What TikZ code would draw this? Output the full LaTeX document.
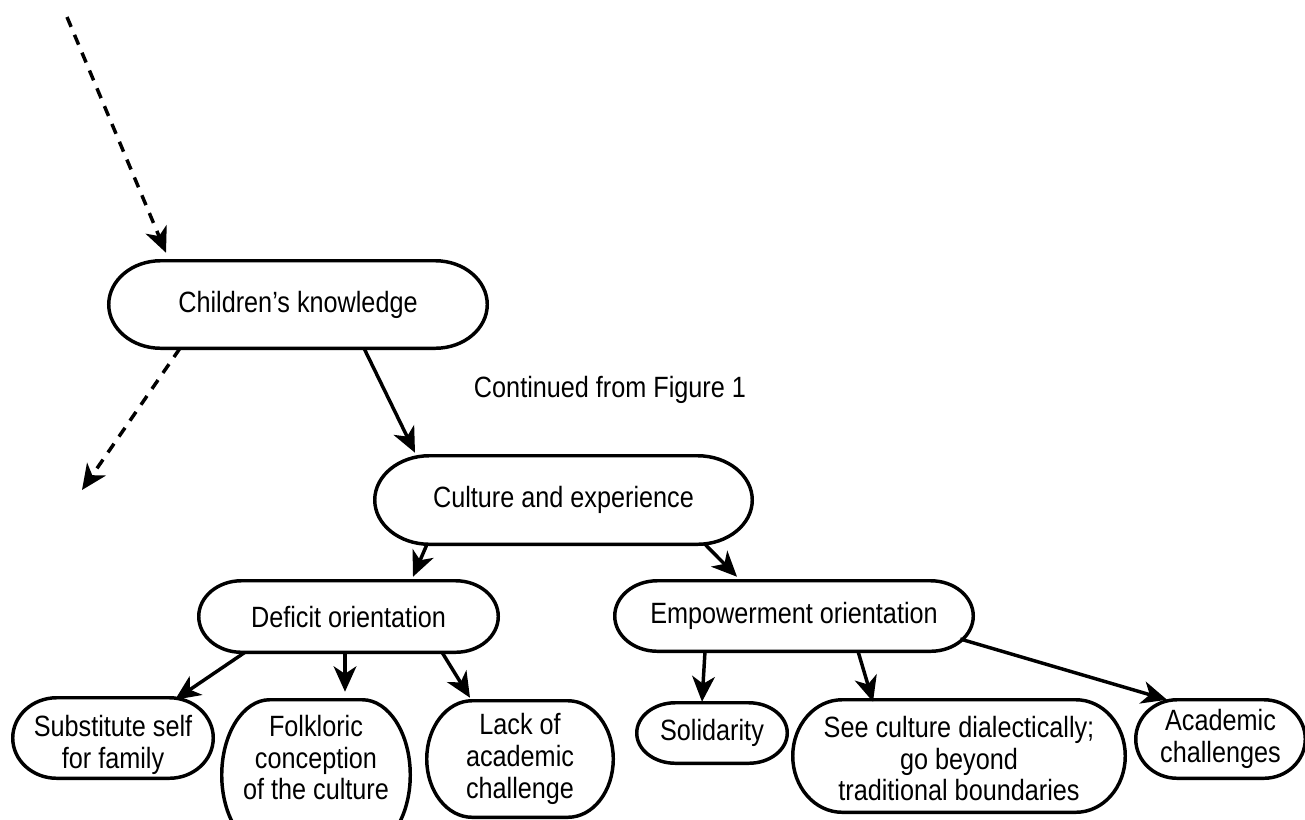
\documentclass[tikz,border=0pt]{standalone}
\usepackage{fontspec}
\setmainfont{Liberation Sans}[FakeStretch=0.86]
\usetikzlibrary{arrows.meta,calc}
\newcommand{\fs}{\fontsize{22pt}{23.8pt}\selectfont}
% oval outline with elliptical ends around a named node: #1 name, #2 horizontal end radius
\newcommand{\ovl}[2]{\draw[line width=2.6pt] let \p1=(#1.north west), \p2=(#1.south east), \p3=(#1.center), \n1={#2} in
  ({\x1+\n1},\y1) -- ({\x2-\n1},\y1)
  .. controls ({\x2-0.4477*\n1},\y1) and (\x2,{\y3+0.5523*(\y1-\y3)}) .. (\x2,\y3)
  .. controls (\x2,{\y3-0.5523*(\y1-\y3)}) and ({\x2-0.4477*\n1},\y2) .. ({\x2-\n1},\y2)
  -- ({\x1+\n1},\y2)
  .. controls ({\x1+0.4477*\n1},\y2) and (\x1,{\y3-0.5523*(\y1-\y3)}) .. (\x1,\y3)
  .. controls (\x1,{\y3+0.5523*(\y1-\y3)}) and ({\x1+0.4477*\n1},\y1) .. ({\x1+\n1},\y1) -- cycle;}
\begin{document}
\begin{tikzpicture}[x=0.75pt,y=-0.75pt,
  ob/.style={inner sep=0pt, align=center, font=\fs},
  txt/.style={inner sep=0pt, align=center, font=\fs},
  arr/.style={line width=2.6pt, -{Stealth[length=19pt,width=17pt,inset=5.5pt]}},
  darr/.style={arr, dash pattern=on 8pt off 6.5pt}]
\useasboundingbox (0,0) rectangle (1305,819);
\clip (0,0) rectangle (1305,819);
\fill[white] (0,0) rectangle (1305,819);

\node[ob, minimum width=283.5pt, minimum height=65.25pt] (know) at (298,304.5) {Children’s knowledge};
\node[ob, minimum width=282.75pt, minimum height=66pt] (cult) at (563.5,500) {Culture and experience};
\node[ob, minimum width=224.25pt, minimum height=53.25pt] (def) at (348.5,616.5) {Deficit orientation};
\node[ob, minimum width=268.5pt, minimum height=52.5pt] (emp) at (794,616) {Empowerment orientation};
\node[ob, minimum width=150pt, minimum height=60pt,
  label={[txt,yshift=-5pt]center:Substitute self\\for family}] (sub) at (113,738) {};
\node[ob, minimum width=141pt, minimum height=112.5pt,
  label={[txt,yshift=13pt]center:Folkloric\\conception\\of the culture}] (folk) at (316,775) {};
\node[ob, minimum width=139.5pt, minimum height=87pt] (lack) at (520,759) {Lack of\\academic\\challenge};
\node[ob, minimum width=112.5pt, minimum height=45pt] (sol) at (712,733) {Solidarity};
\node[ob, minimum width=249pt, minimum height=84pt,
  label={[txt,yshift=-2pt]center:See culture dialectically;\\go beyond\\traditional boundaries}] (see) at (959,756) {};
\node[ob, minimum width=126.75pt, minimum height=58.5pt] (acad) at (1220.5,739) {Academic\\challenges};

\ovl{know}{39pt}
\ovl{cult}{41pt}
\ovl{def}{32pt}
\ovl{emp}{32pt}
\ovl{sub}{33pt}
\ovl{folk}{36pt}
\ovl{lack}{34pt}
\ovl{sol}{29pt}
\ovl{see}{37pt}
\ovl{acad}{31pt}

\node[font=\fs, anchor=base, inner sep=0pt] (cont) at (610,397) {Continued from Figure 1};

\coordinate (d1s) at (67,17);
\coordinate (d2e) at (82,490);

\draw[darr] (d1s) -- ($(know.north)+(-132,-8)$);
\draw[darr] ($(know.south)+(-118,0)$) -- (d2e);
\draw[arr] ($(know.south)+(66,0)$) -- ($(cult.north)+(-148.5,-3)$);
\draw[arr] ($(cult.south)+(-136.5,0)$) -- ($(def.north)+(64.5,-4)$);
\draw[arr] ($(cult.south)+(141.5,0)$) -- ($(emp.north)+(-57,-4)$);
\draw[arr] ($(def.south)+(-103.5,0)$) -- ($(sub.north)+(62,2)$);
\draw[arr] ($(def.south)+(-3.5,0)$) -- ($(folk.north)+(29,-8)$);
\draw[arr] ($(def.south)+(93.5,0)$) -- ($(lack.north)+(-50,-3)$);
\draw[arr] ($(emp.south)+(-89,0)$) -- ($(sol.north)+(-10,-1)$);
\draw[arr] ($(emp.south)+(64,0)$) -- ($(see.north)+(-86,2)$);
\draw[arr] ($(emp.east)+(-13,23)$) -- ($(acad.north)+(-53.5,0)$);
\end{tikzpicture}
\end{document}
